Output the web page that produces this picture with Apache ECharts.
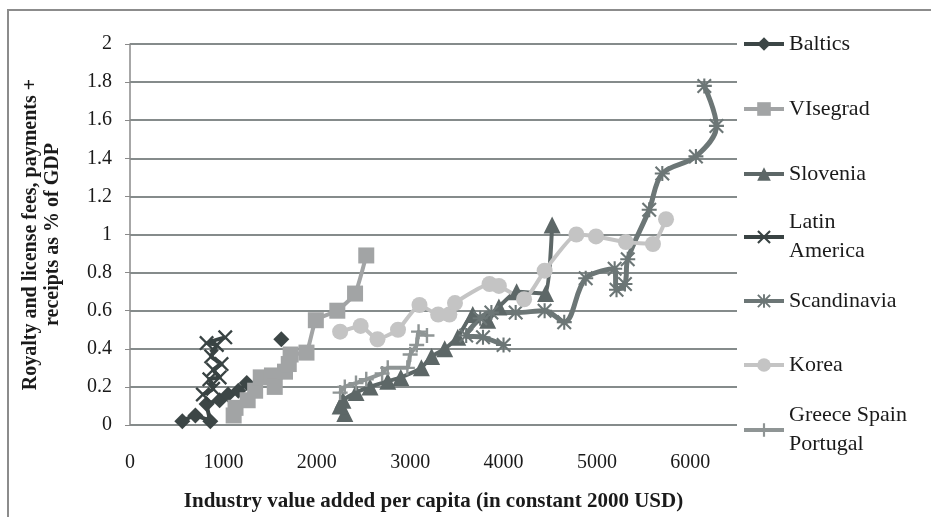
<!DOCTYPE html>
<html>
<head>
<meta charset="utf-8">
<script src="https://cdn.jsdelivr.net/npm/echarts@6/dist/echarts.min.js"></script>
<style>
  html, body { margin: 0; padding: 0; background: #fff; }
  #chart { width: 931px; height: 517px; }
</style>
</head>
<body>
<div id="chart"></div>
<script>
// series data: [industry value added per capita, royalty fees % of GDP]; null = gap in the line
const baltics = [[560,0.02],[700,0.05],[860,0.02],[820,0.11],[960,0.13],[1050,0.16],[1160,0.18],[1250,0.22],null,[1620,0.45]];
const visegrad = [[1110,0.05],[1130,0.09],[1260,0.13],[1340,0.18],[1400,0.25],[1520,0.26],[1550,0.2],[1660,0.28],[1700,0.32],[1720,0.37],[1890,0.38],[1990,0.55],[2220,0.6],[2410,0.69],[2530,0.89]];
const slovenia = [[2300,0.06],[2250,0.1],[2280,0.13],[2420,0.17],[2570,0.2],[2760,0.23],[2900,0.25],[3120,0.3],[3230,0.36],[3370,0.4],[3510,0.46],[3670,0.58],[3830,0.55],[3950,0.62],[4140,0.7],[4450,0.69],[4520,1.05]];
const latinAmerica = [[780,0.16],[890,0.19],[850,0.24],[960,0.25],[890,0.29],[980,0.32],[870,0.36],[930,0.42],[820,0.43],[1020,0.46]];
const scandinavia = [[4000,0.42],[3780,0.46],[3600,0.47],[3750,0.56],[3870,0.59],[4130,0.59],[4440,0.6],[4650,0.54],[4880,0.77],[5190,0.82],[5210,0.71],[5300,0.74],[5330,0.87],[5560,1.13],[5700,1.32],[6060,1.41],[6280,1.57],[6150,1.78]];
const korea = [[2250,0.49],[2470,0.52],[2650,0.45],[2870,0.5],[3100,0.63],[3300,0.58],[3420,0.58],[3480,0.64],[3850,0.74],[3950,0.73],[4220,0.66],[4440,0.81],[4780,1.0],[4990,0.99],[5310,0.96],[5600,0.95],[5740,1.08]];
const greeceSpainPortugal = [[2250,0.17],[2300,0.2],[2420,0.22],[2530,0.24],[2700,0.27],[2760,0.3],[2970,0.3],[3000,0.37],[3070,0.42],[3090,0.49],[3180,0.47]];

const seriesNames = ['Baltics', 'VIsegrad', 'Slovenia', 'Latin America', 'Scandinavia', 'Korea', 'Greece Spain Portugal'];
const seriesData = [baltics, visegrad, slovenia, latinAmerica, scandinavia, korea, greeceSpainPortugal];

// marker shapes
const PLUS = 'path://M4.2,0H5.8V4.2H10V5.8H5.8V10H4.2V5.8H0V4.2H4.2Z';
const CROSS = 'path://M0,1.1L1.1,0L5,3.9L8.9,0L10,1.1L6.1,5L10,8.9L8.9,10L5,6.1L1.1,10L0,8.9L3.9,5Z';
const STAR = 'path://M4.3,0H5.7V10H4.3Z M0,4.3H10V5.7H0Z M0,1L1,0L10,9L9,10Z M9,0L10,1L1,10L0,9Z';

const styles = [
  { color: '#3c4646', symbol: 'diamond', size: 16, width: 4 },
  { color: '#a2a4a5', symbol: 'rect', size: 16, width: 4 },
  { color: '#5d6767', symbol: 'triangle', size: 17, width: 4 },
  { color: '#394343', symbol: CROSS, size: 15, width: 4 },
  { color: '#6c7676', symbol: STAR, size: 15, width: 5 },
  { color: '#c4c4c4', symbol: 'circle', size: 16, width: 4 },
  { color: '#8f9595', symbol: PLUS, size: 15, width: 4 }
];

const FONT = '"Liberation Serif", "DejaVu Serif", serif';
const legendCenters = [44, 109, 174, 237, 301, 365, 430];
const labelText = {
  'Latin America': 'Latin\nAmerica',
  'Greece Spain Portugal': 'Greece Spain\nPortugal'
};

const chart = echarts.init(document.getElementById('chart'));

const legends = seriesNames.map((name, i) => {
  const twoLine = !!labelText[name];
  return {
    data: [name],
    orient: 'vertical',
    left: 742,
    top: twoLine ? legendCenters[i] - 43.5 : legendCenters[i] - 14.5,
    padding: 0,
    itemWidth: 40,
    itemHeight: 17,
    itemGap: 0,
    selectedMode: false,
    lineStyle: { width: 4 },
    formatter: n => labelText[n] || n,
    textStyle: {
      fontFamily: FONT,
      fontSize: 22,
      color: '#1a1a1a',
      lineHeight: 29,
      padding: twoLine ? [29, 0, 0, 0] : 0
    }
  };
});

chart.setOption({
  animation: false,
  backgroundColor: '#fff',
  graphic: [{
    type: 'rect',
    silent: true,
    z: -10,
    shape: { x: 8, y: 10, width: 1000, height: 1000 },
    style: { fill: 'none', stroke: '#8c8c8c', lineWidth: 2 }
  }],
  grid: { left: 130, right: 194, top: 44, bottom: 90 },
  legend: legends,
  xAxis: {
    type: 'value',
    min: 0,
    max: 6500,
    interval: 1000,
    name: 'Industry value added per capita (in constant 2000 USD)',
    nameLocation: 'middle',
    nameGap: 66,
    nameTextStyle: { fontFamily: FONT, fontSize: 21, fontWeight: 'bold', color: '#1a1a1a' },
    axisLine: { show: false },
    axisTick: { show: false },
    splitLine: { show: false },
    axisLabel: {
      showMaxLabel: false,
      margin: 28,
      fontFamily: FONT,
      fontSize: 20,
      color: '#1a1a1a',
      formatter: v => String(v)
    }
  },
  yAxis: {
    type: 'value',
    min: 0,
    max: 2,
    interval: 0.2,
    name: 'Royalty and license fees, payments +\nreceipts as % of GDP',
    nameLocation: 'middle',
    nameGap: 66,
    nameTextStyle: { fontFamily: FONT, fontSize: 20, fontWeight: 'bold', color: '#1a1a1a', lineHeight: 22 },
    axisLine: { show: true, lineStyle: { color: '#8a8a8a', width: 1.5 } },
    axisTick: { show: true, length: 5, lineStyle: { color: '#8a8a8a' } },
    splitLine: { show: true, lineStyle: { color: '#858b8b', width: 2 } },
    axisLabel: {
      margin: 18,
      fontFamily: FONT,
      fontSize: 20,
      color: '#1a1a1a',
      formatter: v => String(Math.round(v * 10) / 10)
    }
  },
  series: seriesNames.map((name, i) => ({
    name: name,
    type: 'line',
    data: seriesData[i].map(p => (p === null ? '-' : p)),
    connectNulls: false,
    smooth: i === 4 ? 0.35 : 0.15,
    symbol: styles[i].symbol,
    symbolSize: styles[i].size,
    showAllSymbol: true,
    color: styles[i].color,
    lineStyle: { color: styles[i].color, width: styles[i].width },
    itemStyle: { color: styles[i].color, opacity: 1 }
  }))
});
</script>
</body>
</html>
